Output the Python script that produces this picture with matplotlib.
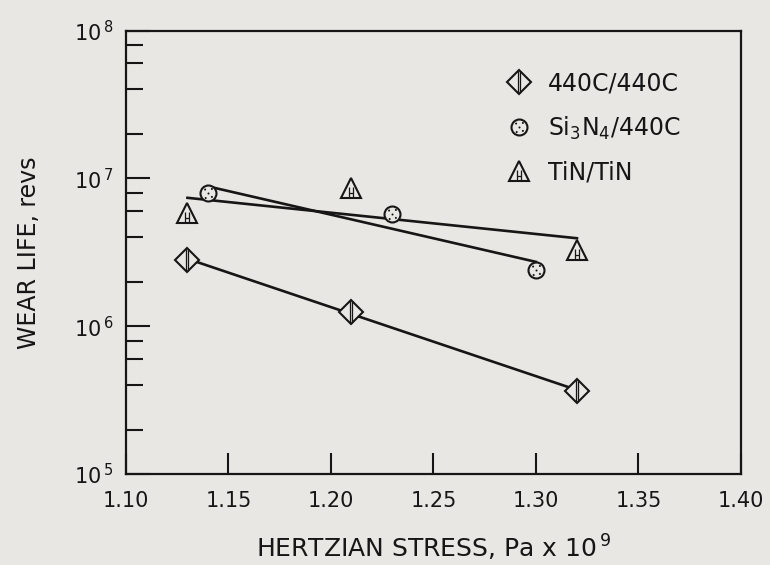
# ---------- Wear life vs Hertzian stress (log scale) ----------
import numpy as np
import matplotlib
matplotlib.use("Agg")
import matplotlib.pyplot as plt
from matplotlib.path import Path
from matplotlib.ticker import FixedLocator, NullLocator
from matplotlib.legend_handler import HandlerTuple

# ---------- data ----------
stress_440c = [1.13, 1.21, 1.32]
life_440c = [2.8e6, 1.25e6, 3.65e5]

stress_si3n4 = [1.14, 1.23, 1.30]
life_si3n4 = [8.0e6, 5.7e6, 2.4e6]

stress_tin = [1.13, 1.21, 1.32]
life_tin = [5.8e6, 8.6e6, 3.3e6]

labels = ["440C/440C", r"Si$_3$N$_4$/440C", "TiN/TiN"]
x_ticks = [1.10, 1.15, 1.20, 1.25, 1.30, 1.35, 1.40]
y_major = [1e5, 1e6, 1e7, 1e8]

bg = "#e9e7e3"
ink = "#161616"

plt.rcParams["font.family"] = ["DejaVu Sans"]
plt.rcParams["mathtext.fontset"] = "dejavusans"

# small inner decorations for the hand-drawn symbols
bar_path = Path([(-0.08, -1), (-0.08, 1), (0.1, -1), (0.1, 1)],
                [Path.MOVETO, Path.LINETO, Path.MOVETO, Path.LINETO])
h_path = Path([(-0.2, -1), (-0.2, 0.05), (0.2, -1), (0.2, 0.05), (-0.2, -0.45), (0.2, -0.45), (0, 1)],
              [Path.MOVETO, Path.LINETO, Path.MOVETO, Path.LINETO, Path.MOVETO, Path.LINETO, Path.MOVETO])
dots = [Path.circle((dx, dy), 0.09) for dx, dy in [(-0.3, 0.35), (0.3, 0.4), (0.0, 0.0), (-0.25, -0.4), (0.3, -0.3)]]
dot_path = Path.make_compound_path(*dots)

fig = plt.figure(figsize=(7.7, 5.65), dpi=100, facecolor=bg)
ax = fig.add_axes([0.1636, 0.161, 0.7987, 0.785], facecolor=bg)

series = [
    (stress_440c, life_440c, "D", 11.8, bar_path, 15.5),
    (stress_si3n4, life_si3n4, "o", 11.5, dot_path, 8),
    (stress_tin, life_tin, "^", 15, h_path, 15),
]

handles = []
for (xs, ys, mk, ms, inner, ims), lab in zip(series, labels):
    xs = np.array(xs)
    ys = np.array(ys)
    # least-squares fit in log space, drawn over the data range
    slope, icpt = np.polyfit(xs, np.log10(ys), 1)
    xf = np.array([xs.min(), xs.max()])
    ax.plot(xf, 10 ** (slope * xf + icpt), color=ink, lw=1.9, zorder=2)
    base, = ax.plot(xs, ys, ls="none", marker=mk, ms=ms, mfc=bg, mec=ink, mew=1.5, zorder=3)
    if mk == "o":
        deco, = ax.plot(xs, ys, ls="none", marker=inner, ms=ims, mfc=ink, mec="none", zorder=4)
    else:
        deco, = ax.plot(xs, ys, ls="none", marker=inner, ms=ims, mec=ink, mew=0.9, zorder=4)
    handles.append((base, deco))

ax.set_yscale("log")
ax.set_xlim(1.10, 1.40)
ax.set_ylim(1e5, 1e8)

ax.xaxis.set_major_locator(FixedLocator(x_ticks))
ax.xaxis.set_minor_locator(NullLocator())
ax.set_xticklabels(["%.2f" % t for t in x_ticks])

ax.yaxis.set_major_locator(FixedLocator(y_major))
ax.yaxis.set_minor_locator(FixedLocator([m * 10 ** e for e in (5, 6, 7) for m in (2, 4, 6, 8)]))
ax.set_yticklabels([r"10$^{\,%d}$" % int(np.log10(v)) for v in y_major])

ax.tick_params(axis="both", which="major", direction="in", width=1.5, color=ink,
               labelsize=15, labelcolor=ink)
ax.tick_params(axis="x", which="major", length=15, pad=12)
ax.tick_params(axis="y", which="major", length=17, pad=9)
ax.tick_params(axis="y", which="minor", direction="in", length=12, width=1.5, color=ink)

for s in ax.spines.values():
    s.set_linewidth(1.6)
    s.set_color(ink)

ax.set_xlabel(r"HERTZIAN STRESS, Pa x 10$^{\,9}$", fontsize=18, color=ink, labelpad=16)
ax.set_ylabel("WEAR LIFE, revs", fontsize=17, color=ink, labelpad=24)

ax.legend(handles, labels, loc="upper left", bbox_to_anchor=(0.583, 0.955), frameon=False,
          fontsize=17, labelcolor=ink, handlelength=1.15, handletextpad=0.65, labelspacing=0.8,
          handler_map={tuple: HandlerTuple(ndivide=1)})

plt.savefig("out.png", dpi=100, facecolor=bg)
